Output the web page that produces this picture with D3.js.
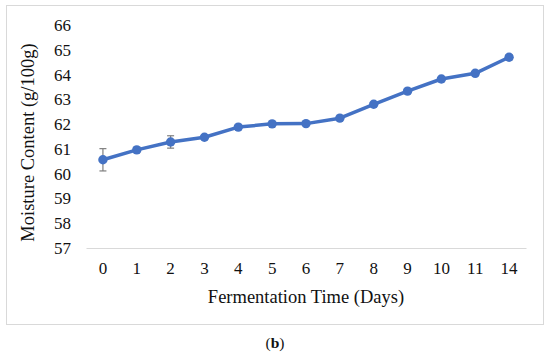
<!DOCTYPE html>
<html><head><meta charset="utf-8">
<script src="https://cdn.jsdelivr.net/npm/d3@7"></script>
<style>body{margin:0;background:#fff}</style>
</head><body><svg id="c" width="550" height="355"></svg>
<script>
const days = ["0","1","2","3","4","5","6","7","8","9","10","11","14"];
const moisture = [60.56, 60.96, 61.28, 61.47, 61.88, 62.01, 62.02, 62.24, 62.80, 63.33, 63.82, 64.05, 64.70];
const errors = [0.45, 0.10, 0.25, 0.06, 0.08, 0.05, 0.05, 0.05, 0.06, 0.06, 0.05, 0.06, 0.10];
const yTicks = [57,58,59,60,61,62,63,64,65,66];

const FONT = "font-family:'Liberation Serif','Times New Roman',serif";
const svg = d3.select("#c");
svg.append("rect").attr("x",6.5).attr("y",5.5).attr("width",537).attr("height",319)
  .attr("fill","#fff").attr("stroke","#d9d9d9").attr("stroke-width",1);

const x = d3.scaleBand().domain(days).range([86,526]);
const y = d3.scaleLinear().domain([57,66]).range([248,25]);

const xAxis = d3.axisBottom(x).tickSize(0).tickPadding(14);
const gx = svg.append("g").attr("transform","translate(0,248)").call(xAxis);
gx.select(".domain").attr("stroke","#d9d9d9").attr("stroke-width",1.2);
gx.selectAll("text").attr("style",FONT).attr("font-size",17).attr("fill","#111");

const yAxis = d3.axisLeft(y).tickValues(yTicks).tickSize(0).tickPadding(0);
const gy = svg.append("g").attr("transform","translate(71,0)").call(yAxis);
gy.select(".domain").remove();
gy.selectAll("text").attr("style",FONT).attr("font-size",17).attr("fill","#111");

const eb = svg.append("g").attr("stroke","#7f7f7f").attr("stroke-width",1.2);
days.forEach((d,i)=>{
  const cx = x(d)+x.bandwidth()/2;
  const y1 = y(moisture[i]+errors[i]), y2 = y(moisture[i]-errors[i]);
  eb.append("line").attr("x1",cx).attr("x2",cx).attr("y1",y1).attr("y2",y2);
  eb.append("line").attr("x1",cx-3.5).attr("x2",cx+3.5).attr("y1",y1).attr("y2",y1);
  eb.append("line").attr("x1",cx-3.5).attr("x2",cx+3.5).attr("y1",y2).attr("y2",y2);
});

const line = d3.line().x((d,i)=>x(days[i])+x.bandwidth()/2).y(d=>y(d));
svg.append("path").datum(moisture).attr("d",line).attr("fill","none")
  .attr("stroke","#4472c4").attr("stroke-width",3.5).attr("stroke-linejoin","round");

svg.append("g").selectAll("circle").data(moisture).join("circle")
  .attr("cx",(d,i)=>x(days[i])+x.bandwidth()/2).attr("cy",d=>y(d)).attr("r",4.7)
  .attr("fill","#4472c4");

svg.append("text").attr("x",306).attr("y",303).attr("text-anchor","middle").attr("style",FONT)
  .attr("font-size",18.5).attr("fill","#111").text("Fermentation Time (Days)");
svg.append("text").attr("transform","translate(34,142.5) rotate(-90)").attr("text-anchor","middle").attr("style",FONT)
  .attr("font-size",18.5).attr("fill","#111").text("Moisture Content (g/100g)");

const cap = svg.append("text").attr("x",275).attr("y",348).attr("text-anchor","middle").attr("style",FONT)
  .attr("font-size",15.5).attr("fill","#111");
cap.append("tspan").text("(");
cap.append("tspan").attr("font-weight","bold").text("b");
cap.append("tspan").text(")");
</script></body></html>
